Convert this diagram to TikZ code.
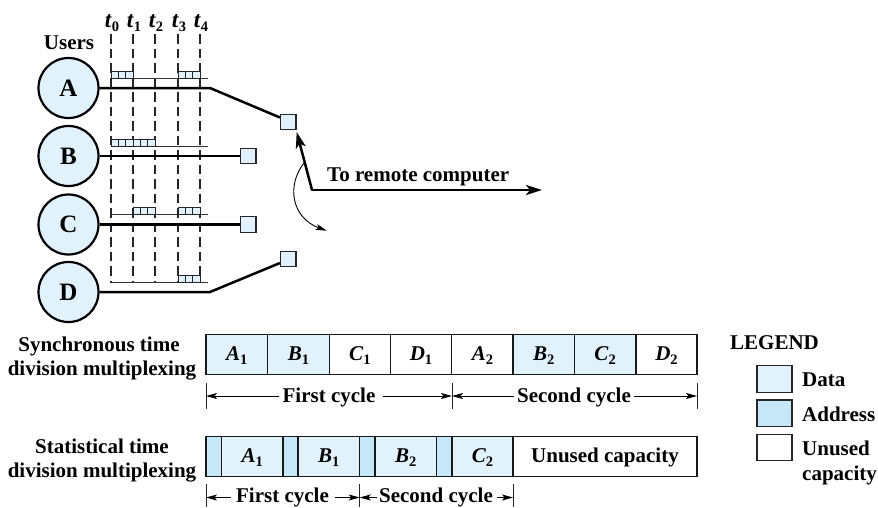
\documentclass[tikz,border=0pt]{standalone}
\usepackage{fontspec}
\setmainfont{Liberation Serif}
\usetikzlibrary{arrows.meta}
\newcommand{\lb}[2]{\textit{#1}\raisebox{-0.2em}{\fontsize{14.5}{15}\selectfont #2}}
\tikzset{
  txt/.style={font=\fontsize{21}{23}\selectfont\bfseries,inner sep=0pt,text=black},
  user/.style={circle,draw=black,line width=2.2pt,fill=datafill,minimum size=60pt,inner sep=0pt,font=\fontsize{25}{27}\selectfont\bfseries},
  port/.style={rectangle,draw=black!85,line width=1.2pt,fill=datafill,minimum size=15.5pt,inner sep=0pt},
  thick line/.style={line width=2.5pt,draw=black},
  slice/.style={line width=1pt,draw=black!80},
  tdash/.style={line width=1.1pt,draw=black!85,dash pattern=on 9.5pt off 5pt},
  cell/.style={rectangle,draw=black!90,line width=1.2pt,inner sep=0pt,minimum height=40pt,text height=15.4pt,text depth=4pt,font=\fontsize{21}{23}\selectfont\bfseries},
  dcell/.style={cell,fill=datafill},
  acell/.style={cell,fill=addrfill},
  ucell/.style={cell,fill=white},
  lgd/.style={rectangle,draw=black!85,line width=1.2pt,inner sep=0pt,minimum width=35pt,minimum height=26.5pt},
  dim/.style={line width=0.9pt,draw=black,-{Stealth[length=11pt,width=6pt,inset=2.5pt]}},
  tick/.style={line width=0.9pt,draw=black!85},
}
\definecolor{datafill}{HTML}{E1F2FC}
\definecolor{addrfill}{HTML}{C5E7F8}
\newcommand{\cells}[3]{% x0, y top, count
  \foreach \i in {1,...,#3}{\draw[line width=1pt,draw=black!85,fill=datafill] ({#1+(\i-1)*22/3},#2) rectangle ({#1+\i*22/3},#2+7);}}
\begin{document}
\begin{tikzpicture}[x=1pt,y=-1pt]
\useasboundingbox (0,0) rectangle (878,507);
% time lines
\foreach \x/\n in {111/0,133/1,155/2,178/3,200/4}{
  \node[txt,anchor=base,font=\fontsize{23}{24}\selectfont\bfseries] (t\n) at (\x+1,27) {\lb{t}{\n}};
  \coordinate (tb\n) at (\x,282.7);
  \draw[tdash] (\x,34) -- (tb\n);
}
\node[txt,anchor=base] (users) at (69,49) {Users};
% users
\node[user] (A) at (68.5,88) {A};
\node[user] (B) at (68.5,156) {B};
\node[user] (C) at (68.5,224.5) {C};
\node[user] (D) at (68.5,292) {D};
% ports
\node[port] (pa) at (288.3,122) {};
\node[port] (pb) at (248.3,156) {};
\node[port] (pc) at (248.3,224.5) {};
\node[port] (pd) at (288.3,259) {};
% lines
\coordinate (ba) at (210,88);
\coordinate (bd) at (210,292);
\draw[thick line,line join=round] (A) -- (ba) -- (pa.west|-0,117.5);
\draw[thick line] (B) -- (pb);
\draw[thick line] (C) -- (pc);
\draw[thick line,line join=round] (D) -- (bd) -- (pd.west|-0,263);
% slices
\foreach \y/\n in {78.5/a,146.7/b,214.5/c,282.7/d}{\coordinate (s\n) at (208,\y); \draw[slice] (111,\y) -- (s\n);}
\cells{111}{71.5}{3}
\cells{178}{71.5}{3}
\cells{111}{139.7}{6}
\cells{133}{207.5}{3}
\cells{178}{207.5}{3}
\cells{178}{275.7}{3}
% output
\coordinate (bend) at (312,190);
\coordinate (out) at (542,190);
\coordinate (tipa) at (296.7,132);
\draw[thick line,-{Stealth[length=16pt,width=10pt,inset=4pt]}] (bend) -- (out);
\draw[thick line,line cap=round,-{Stealth[length=16pt,width=10pt,inset=4pt]}] (bend) -- (tipa);
\node[txt,anchor=base west] (rem) at (327,181) {To remote computer};
\coordinate (as) at (304,163);
\coordinate (ae) at (326.7,230.7);
\draw[line width=0.9pt,draw=black,-{Stealth[length=11pt,width=6pt,inset=2.5pt]}] (as) .. controls (286,186) and (292,218) .. (ae);
% left labels
\node[txt,anchor=base] (s1l) at (99,351) {Synchronous time};
\node[txt,anchor=base] (s2l) at (102,375) {division multiplexing};
\node[txt,anchor=base] (s3l) at (102,453) {Statistical time};
\node[txt,anchor=base] (s4l) at (102,477) {division multiplexing};
% row 1
\node[dcell,minimum width=61.6pt] (r1) at (236.85,354.7) {\lb{A}{1}};
\node[dcell,minimum width=61.6pt] (r2) at (298.5,354.7) {\lb{B}{1}};
\node[ucell,minimum width=61pt] (r3) at (359.8,354.7) {\lb{C}{1}};
\node[ucell,minimum width=61.4pt] (r4) at (421,354.7) {\lb{D}{1}};
\node[ucell,minimum width=61.3pt] (r5) at (482.4,354.7) {\lb{A}{2}};
\node[dcell,minimum width=61.3pt] (r6) at (543.7,354.7) {\lb{B}{2}};
\node[dcell,minimum width=61.7pt] (r7) at (605.2,354.7) {\lb{C}{2}};
\node[ucell,minimum width=61pt] (r8) at (666.5,354.7) {\lb{D}{2}};
% row 1 dims
\foreach \n/\x in {a/206,b/452,c/697}{\coordinate (d\n) at (\x,396); \draw[tick] (\x,383) -- (\x,409);}
\node[txt,anchor=base] (fc1) at (329,402.7) {First cycle};
\node[txt,anchor=base] (sc1) at (574,402.7) {Second cycle};
\draw[dim] (fc1.west|-da) ++(-3,0) -- (da);
\draw[dim] (fc1.east|-da) ++(7,0) -- (db);
\draw[dim] (sc1.west|-da) ++(-3,0) -- (db);
\draw[dim] (sc1.east|-da) ++(3,0) -- (dc);
% row 2
\node[acell,minimum width=15.7pt] (q1) at (213.85,456.7) {};
\node[dcell,minimum width=61.3pt] (q2) at (252.35,456.7) {\lb{A}{1}};
\node[acell,minimum width=15pt] (q3) at (290.5,456.7) {};
\node[dcell,minimum width=61.7pt] (q4) at (328.85,456.7) {\lb{B}{1}};
\node[acell,minimum width=15.3pt] (q5) at (367.35,456.7) {};
\node[dcell,minimum width=61.7pt] (q6) at (405.85,456.7) {\lb{B}{2}};
\node[acell,minimum width=15.3pt] (q7) at (444.35,456.7) {};
\node[dcell,minimum width=61pt] (q8) at (482.5,456.7) {\lb{C}{2}};
\node[ucell,minimum width=184pt] (q9) at (605,456.7) {Unused capacity};
% row 2 dims
\foreach \n/\x in {a/206,b/359.7,c/513}{\coordinate (e\n) at (\x,497.5); \draw[tick] (\x,484) -- (\x,507);}
\node[txt,anchor=base] (fc2) at (282.5,502.2) {First cycle};
\node[txt,anchor=base] (sc2) at (436,502.2) {Second cycle};
\draw[dim] (fc2.west|-ea) ++(-5,0) -- (ea);
\draw[dim] (fc2.east|-ea) ++(6,0) -- (eb);
\draw[dim] (sc2.west|-ea) ++(-2,0) -- (eb);
\draw[dim] (sc2.east|-ea) ++(4,0) -- (ec);
% legend
\node[txt,anchor=base west] (leg) at (730,349.5) {LEGEND};
\node[lgd,fill=datafill] (l1) at (774.4,379) {};
\node[lgd,fill=addrfill] (l2) at (774.4,413.3) {};
\node[lgd,fill=white] (l3) at (774.4,447.6) {};
\node[txt,anchor=base west] (ld) at (802,386.7) {Data};
\node[txt,anchor=base west] (la) at (802,421.3) {Address};
\node[txt,anchor=base west] (lu) at (802,455.7) {Unused};
\node[txt,anchor=base west] (lc) at (802,480.5) {capacity};
\end{tikzpicture}
\end{document}
